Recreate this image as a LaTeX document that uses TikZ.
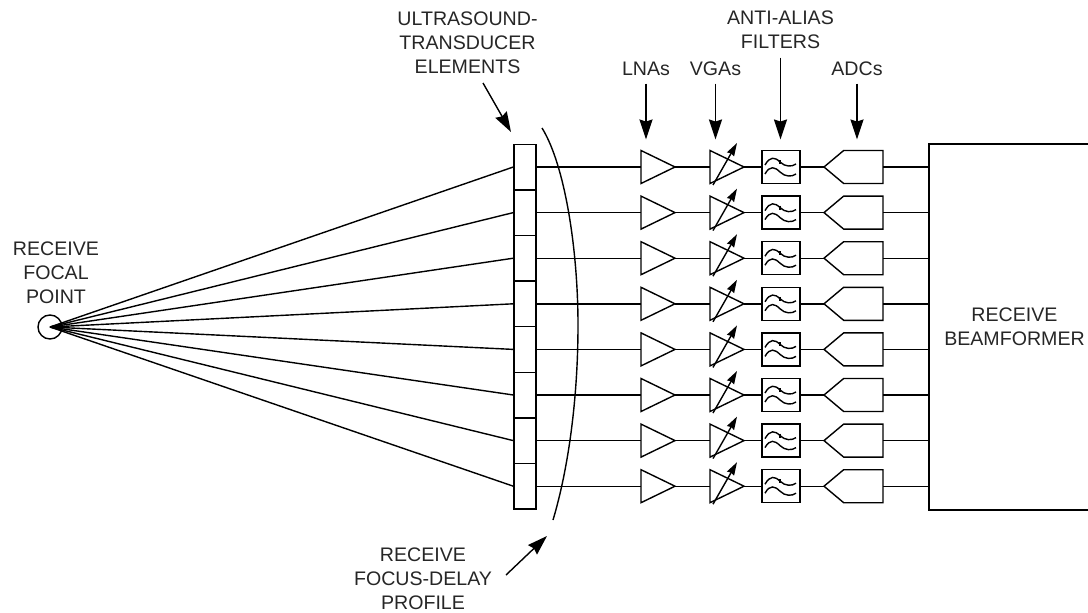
\documentclass[tikz,border=0pt]{standalone}
\usepackage{fontspec}
\setmainfont{Liberation Sans}
\usetikzlibrary{arrows.meta,shapes.geometric,shapes.symbols}
\tikzset{
  lbl/.style={align=center,inner sep=0pt,font=\fontsize{19.6}{24}\selectfont,text=black!85},
  cell/.style={draw,rectangle,minimum width=22pt,minimum height=45.6pt,inner sep=0pt},
  amp/.style={draw,isosceles triangle,isosceles triangle stretches,shape border rotate=0,
    minimum width=33pt,minimum height=34pt,inner sep=0pt,outer sep=0pt,anchor=west},
  filt/.style={draw,rectangle,minimum width=38pt,minimum height=33pt,inner sep=0pt},
  adc/.style={draw,signal,signal to=west,signal pointer angle=80,
    minimum width=59pt,minimum height=33pt,inner sep=0pt,outer sep=0pt,anchor=east},
  callout/.style={-{Stealth[length=20pt,width=13pt,inset=2pt]},line width=1.4pt},
  wire/.style={line width=1.4pt}
}
\begin{document}
\begin{tikzpicture}[x=1pt,y=-1pt,line width=1.4pt]
  \useasboundingbox (0,0) rectangle (1088,613);
  % column positions
  \def\xel{525}\def\xlna{641}\def\xvga{710}\def\xflt{781}\def\xadc{883}
  % focal point
  \node[draw,circle,minimum size=24pt,inner sep=0pt] (focal) at (50,327) {};
  % beamformer, right side runs off the page
  \node[draw,rectangle,minimum width=171pt,minimum height=366pt,inner sep=0pt,lbl] (bf) at (1014.5,327)
    {RECEIVE\\BEAMFORMER};
  % channels
  \foreach \i in {1,...,8}{%
    \pgfmathsetmacro{\ry}{167+45.6*(\i-1)}
    \node[cell] (el\i) at (\xel,\ry) {};
    \node[amp] (lna\i) at (\xlna,\ry) {};
    \node[amp] (vga\i) at (\xvga,\ry) {};
    \node[filt] (flt\i) at (\xflt,\ry) {};
    \node[adc] (adc\i) at (\xadc,\ry) {};
    \draw[wire] (focal.center) -- (el\i.west);
    \draw[wire] (el\i.east) -- (lna\i.west);
    \draw[wire] (lna\i.east) -- (vga\i.west);
    \draw[wire] (vga\i.east) -- (flt\i.west);
    \draw[wire] (flt\i.east) -- (adc\i.west);
    \draw[wire] (adc\i.east) -- (adc\i.east -| bf.west);
    % gain arrow
    \draw[-{Stealth[length=13pt,width=8pt,inset=1pt]},wire] ([shift={(3,18)}]vga\i.west) -- ([shift={(27,-24)}]vga\i.west);
    % filter waves
    \draw[wire] ([shift={(-16,-2)}]flt\i.center) .. controls +(5,-9) and +(-5,-5) .. ([shift={(-1,-5)}]flt\i.center)
      .. controls +(5,5) and +(-4,3) .. ([shift={(15,-3)}]flt\i.center);
    \draw[wire] ([shift={(-16,7)}]flt\i.center) .. controls +(5,-9) and +(-5,-5) .. ([shift={(-1,5)}]flt\i.center)
      .. controls +(5,5) and +(-4,3) .. ([shift={(15,7)}]flt\i.center);
    \draw[wire] ([shift={(-1,-7)}]flt\i.center) -- ([shift={(-1,-3)}]flt\i.center);
  }
  % delay profile
  \coordinate (arcA) at (542,128);
  \coordinate (arcB) at (578,325);
  \coordinate (arcC) at (553,520);
  \draw[wire] (arcA) .. controls (565,165) and (578,250) .. (arcB) .. controls (578,400) and (568,470) .. (arcC);
  % labels
  \node[lbl] (lblel) at (467.5,43) {ULTRASOUND-\\TRANSDUCER\\ELEMENTS};
  \node[lbl] (lbllna) at (646,69) {LNAs};
  \node[lbl] (lblvga) at (715.5,69) {VGAs};
  \node[lbl] (lblflt) at (780.5,30) {ANTI-ALIAS\\FILTERS};
  \node[lbl] (lbladc) at (857,69) {ADCs};
  \node[lbl] (lblfocal) at (56,273) {RECEIVE\\FOCAL\\POINT};
  \node[lbl] (lbldelay) at (423,579) {RECEIVE\\FOCUS-DELAY\\PROFILE};
  % callouts
  \coordinate (tailel) at (483,83);
  \coordinate (tipel) at (511,132);
  \coordinate (taildelay) at (506,575);
  \coordinate (tipdelay) at (547,536);
  \draw[callout] (tailel) -- (tipel);
  \draw[callout] ([yshift=-7pt]lbllna.south) -- ([yshift=4pt]lbllna.south |- el1.north);
  \draw[callout] ([yshift=-7pt]lblvga.south) -- ([yshift=4pt]lblvga.south |- el1.north);
  \draw[callout] ([yshift=-8pt]lblflt.south) -- ([yshift=4pt]lblflt.south |- el1.north);
  \draw[callout] ([yshift=-7pt]lbladc.south) -- ([yshift=4pt]lbladc.south |- el1.north);
  \draw[callout] (taildelay) -- (tipdelay);
\end{tikzpicture}
\end{document}
